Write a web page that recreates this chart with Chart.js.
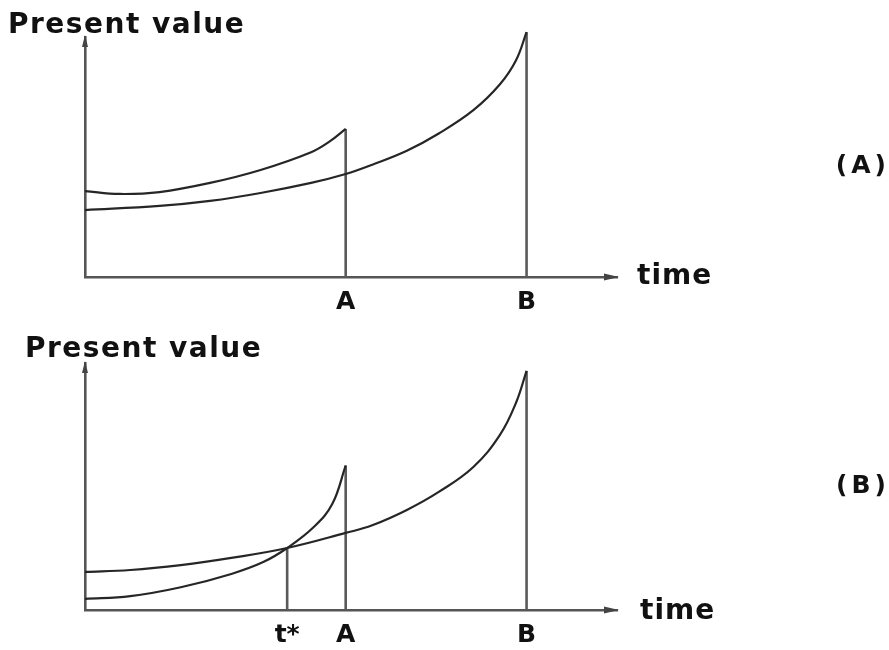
<!DOCTYPE html>
<html>
<head>
<meta charset="utf-8">
<script src="https://cdn.jsdelivr.net/npm/chart.js@4"></script>
<style>
  html, body { margin: 0; padding: 0; background: #fff; }
  #wrap { width: 889px; height: 650px; }
  canvas { display: block; }
</style>
</head>
<body>
<div id="wrap">
  <canvas id="top-chart" width="889" height="325"></canvas>
  <canvas id="bottom-chart" width="889" height="325"></canvas>
</div>
<script>
// time runs 0..100 along each axis, present value 0..100 up each axis
const topEarlyTimes = [0, 6.5, 14, 23.5, 33, 42.5, 46, 49];
const topEarlyValues = [35.8, 34.6, 35.4, 39.2, 44.6, 52.0, 56.5, 61.7];
const topLateTimes = [0, 14, 23.5, 33, 42.5, 49, 54, 60.5, 66.5, 73, 78, 81, 83];
const topLateValues = [27.9, 29.6, 31.7, 35.0, 39.2, 42.9, 46.8, 52.6, 59.8, 69.5, 80.3, 90.2, 102];

const bottomEarlyTimes = [0, 8.5, 18, 27.5, 33.5, 38, 43, 46.5, 49];
const bottomEarlyValues = [4.5, 5.6, 9.2, 14.6, 19.4, 25.1, 33.6, 43.0, 58.5];
const bottomLateTimes = [0, 8.5, 18, 27.5, 38, 49, 54, 60.5, 66.5, 73, 78, 81, 83];
const bottomLateValues = [15.4, 16.2, 18.2, 21.1, 25.1, 31.2, 34.3, 40.5, 47.8, 57.9, 70.9, 83.8, 96.8];

const topMarkTimes = [49, 83];
const topMarkLabels = ['A', 'B'];
const bottomMarkTimes = [38, 49, 83];
const bottomMarkLabels = ['t*', 'A', 'B'];

const FONT = '"DejaVu Sans", sans-serif';
Chart.defaults.font.family = FONT;

const toPoints = (xs, ys) => xs.map((x, i) => ({ x: x, y: ys[i] }));
const last = arr => arr[arr.length - 1];

function curve(xs, ys) {
    return {
        data: toPoints(xs, ys),
        borderColor: '#262626',
        borderWidth: 2.2,
        pointRadius: 0,
        tension: 0.4,
        clip: false
    };
}

function drop(t, v) {
    return {
        data: [{ x: t, y: 0 }, { x: t, y: v }],
        borderColor: '#5a5a5a',
        borderWidth: 2.6,
        pointRadius: 0,
        clip: false
    };
}

// axis arrows and the free text around each panel
const decor = {
    id: 'decor',
    afterDraw(chart, args, opts) {
        const ctx = chart.ctx;
        const xs = chart.scales.x, ys = chart.scales.y;
        const x0 = xs.getPixelForValue(0), x1 = xs.getPixelForValue(100);
        const y0 = ys.getPixelForValue(0), y1 = ys.getPixelForValue(100);
        ctx.save();
        ctx.fillStyle = '#444';
        ctx.beginPath();
        ctx.moveTo(x1 + 2, y0);
        ctx.lineTo(x1 - 13, y0 - 3.5);
        ctx.lineTo(x1 - 13, y0 + 3.5);
        ctx.closePath();
        ctx.fill();
        ctx.beginPath();
        ctx.moveTo(x0, y1 - 2);
        ctx.lineTo(x0 - 3, y1 + 10);
        ctx.lineTo(x0 + 3, y1 + 10);
        ctx.closePath();
        ctx.fill();

        ctx.fillStyle = '#111';
        ctx.textBaseline = 'alphabetic';
        ctx.font = 'bold 28px ' + FONT;
        ctx.letterSpacing = '1.5px';
        ctx.textAlign = 'left';
        ctx.fillText('Present value', opts.titleX, opts.titleY);
        ctx.letterSpacing = '1px';
        ctx.fillText('time', opts.timeX, opts.timeY);
        ctx.font = 'bold 25px ' + FONT;
        ctx.letterSpacing = '4px';
        ctx.textAlign = 'right';
        ctx.fillText(opts.panel, 890, opts.panelY);
        ctx.restore();
    }
};

function makeChart(id, datasets, marks, labels, pad, decorOpts) {
    return new Chart(document.getElementById(id), {
        type: 'line',
        data: { datasets: datasets },
        plugins: [decor],
        options: {
            responsive: false,
            animation: false,
            layout: { padding: pad },
            plugins: {
                legend: { display: false },
                tooltip: { enabled: false },
                decor: decorOpts
            },
            scales: {
                x: {
                    type: 'linear',
                    min: 0,
                    max: 100,
                    grid: { display: false, drawTicks: false },
                    border: { display: true, color: '#555', width: 2.6 },
                    afterBuildTicks: s => { s.ticks = marks.map(v => ({ value: v })); },
                    afterFit: s => { s.height = 40; },
                    ticks: {
                        autoSkip: false,
                        maxRotation: 0,
                        padding: 10,
                        color: '#111',
                        font: { size: 25, weight: 'bold' },
                        callback: v => labels[marks.indexOf(v)]
                    }
                },
                y: {
                    min: 0,
                    max: 100,
                    grid: { display: false, drawTicks: false },
                    border: { display: true, color: '#555', width: 2.6 },
                    ticks: { display: false },
                    afterFit: s => { s.width = 0; }
                }
            }
        }
    });
}

makeChart('top-chart', [
    curve(topEarlyTimes, topEarlyValues),
    curve(topLateTimes, topLateValues),
    drop(last(topEarlyTimes), last(topEarlyValues)),
    drop(last(topLateTimes), last(topLateValues))
], topMarkTimes, topMarkLabels,
    { left: 85, right: 272, top: 37, bottom: 8 },
    { titleX: 8, titleY: 33, timeX: 637, timeY: 284, panel: '(A)', panelY: 173 });

const crossIdx = bottomEarlyTimes.indexOf(bottomMarkTimes[0]);
makeChart('bottom-chart', [
    curve(bottomEarlyTimes, bottomEarlyValues),
    curve(bottomLateTimes, bottomLateValues),
    drop(bottomMarkTimes[0], bottomEarlyValues[crossIdx]),
    drop(last(bottomEarlyTimes), last(bottomEarlyValues)),
    drop(last(bottomLateTimes), last(bottomLateValues))
], bottomMarkTimes, bottomMarkLabels,
    { left: 85, right: 272, top: 38, bottom: 0 },
    { titleX: 25, titleY: 32, timeX: 640, timeY: 294, panel: '(B)', panelY: 168 });
</script>
</body>
</html>
